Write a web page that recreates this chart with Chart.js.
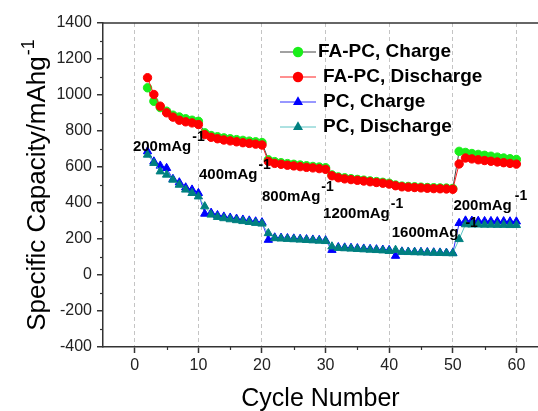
<!DOCTYPE html>
<html><head><meta charset="utf-8">
<script src="https://cdn.jsdelivr.net/npm/chart.js@4/dist/chart.umd.min.js"></script>
<style>
html,body{margin:0;padding:0;background:#fff;overflow:hidden;}
#wrap{position:relative;width:538px;height:411px;}
</style></head><body>
<div id="wrap"><canvas id="c"></canvas></div>
<script>
// ---- data ----
const cycles = [2,3,4,5,6,7,8,9,10,
  11,12,13,14,15,16,17,18,19,20,
  21,22,23,24,25,26,27,28,29,30,
  31,32,33,34,35,36,37,38,39,40,
  41,42,43,44,45,46,47,48,49,50,
  51,52,53,54,55,56,57,58,59,60];
const faPcCharge = [1040,965,930,910,888,878,868,860,854,
  790,775,768,762,757,752,748,744,740,736,
  640,630,624,619,615,611,607,603,600,596,
  556,545,540,535,531,527,523,519,515,510,
  500,494,492,490,488,486,485,484,483,481,
  687,681,675,670,665,660,655,650,646,642];
const faPcDischarge = [1096,1003,938,901,877,860,851,845,836,
  780,765,757,750,745,740,735,731,727,722,
  631,620,615,610,606,602,598,595,591,587,
  551,540,534,530,526,522,518,514,510,505,
  496,490,488,486,484,482,480,479,478,476,
  617,650,645,640,636,632,628,624,620,616];
const pcCharge = [687,630,607,594,533,514,486,474,455,
  340,345,332,324,318,312,307,302,297,292,
  195,208,206,204,202,200,198,196,194,192,
  139,154,152,150,148,146,144,142,140,138,
  106,130,129,128,127,126,125,124,123,122,
  288,302,301,300,299,299,298,298,297,297];
const pcDischarge = [668,622,575,557,529,501,474,455,436,
  381,335,322,315,309,304,299,294,289,285,
  232,204,202,200,198,196,194,192,190,188,
  158,150,148,146,144,142,140,138,136,133,
  139,128,127,126,125,124,123,122,121,120,
  199,281,280,280,279,279,278,278,277,277];
const seriesNames = ['FA-PC, Charge','FA-PC, Discharge','PC, Charge','PC, Discharge'];
const xTicks = [0,10,20,30,40,50,60];
const xMinorTicks = [5,15,25,35,45,55];
const yTicks = [-400,-200,0,200,400,600,800,1000,1200,1400];
const yMinorTicks = [-300,-100,100,300,500,700,900,1100,1300];
const rateLabels = ['200mAg','400mAg','800mAg','1200mAg','1600mAg','200mAg'];
const rateSup = '-1';
const yTitle = 'Specific Capacity/mAhg';
const xTitle = 'Cycle Number';

const FONT = '"Liberation Sans", Arial, Helvetica, sans-serif';
Chart.defaults.font.family = FONT;

function pts(ys){ return cycles.map((c,i)=>({x:c,y:ys[i]})); }

function drawMarker(ctx, style, x, y, r, color){
  ctx.fillStyle = color;
  ctx.beginPath();
  if (style === 'triangle'){
    let rad = 0;
    ctx.moveTo(x + Math.sin(rad)*r, y - Math.cos(rad)*r);
    rad += 2*Math.PI/3;
    ctx.lineTo(x + Math.sin(rad)*r, y - Math.cos(rad)*r);
    rad += 2*Math.PI/3;
    ctx.lineTo(x + Math.sin(rad)*r, y - Math.cos(rad)*r);
    ctx.closePath();
  } else {
    ctx.arc(x, y, r, 0, Math.PI*2);
  }
  ctx.fill();
}

const framePlugin = {
  id:'frame',
  afterDraw(chart){
    const {ctx, chartArea:a, scales} = chart;
    ctx.save();
    ctx.strokeStyle = '#333'; ctx.lineWidth = 1.5;
    ctx.beginPath(); ctx.moveTo(a.left, a.top); ctx.lineTo(chart.width, a.top); ctx.stroke();
    ctx.lineWidth = 1.2;
    yMinorTicks.forEach(v=>{
      const p = Math.round(scales.y.getPixelForValue(v)) + 0.5;
      ctx.beginPath(); ctx.moveTo(a.left-3, p); ctx.lineTo(a.left, p); ctx.stroke();
    });
    xMinorTicks.forEach(v=>{
      const p = Math.round(scales.x.getPixelForValue(v)) + 0.5;
      ctx.beginPath(); ctx.moveTo(p, a.bottom); ctx.lineTo(p, a.bottom+3); ctx.stroke();
    });
    // y title with superscript
    ctx.fillStyle = '#000';
    ctx.textBaseline = 'middle'; ctx.textAlign = 'left';
    ctx.font = '26px ' + FONT;
    const w = ctx.measureText(yTitle).width;
    ctx.font = '18px ' + FONT;
    const ws = ctx.measureText(rateSup).width;
    const cy = (a.top + a.bottom)/2;
    ctx.translate(38, cy);
    ctx.rotate(-Math.PI/2);
    const sx = -(w + ws + 1)/2;
    ctx.font = '26px ' + FONT;
    ctx.fillText(yTitle, sx, 0);
    ctx.font = '18px ' + FONT;
    ctx.fillText(rateSup, sx + w + 1, -9);
    ctx.restore();
  }
};

const annotPlugin = {
  id:'rateAnnot',
  afterDatasetsDraw(chart, args, opts){
    const {ctx, scales} = chart;
    ctx.save();
    ctx.fillStyle = '#000';
    ctx.textBaseline = 'middle'; ctx.textAlign = 'left';
    opts.items.forEach((it,i)=>{
      const x = scales.x.getPixelForValue(it.x);
      const y = scales.y.getPixelForValue(it.y);
      ctx.font = 'bold 15px ' + FONT;
      ctx.fillText(rateLabels[i], x, y);
      const w = ctx.measureText(rateLabels[i]).width;
      ctx.font = 'bold 14px ' + FONT;
      ctx.fillText(rateSup, x + w + (it.gap||1), y - 10);
    });
    ctx.restore();
  }
};

const legendPlugin = {
  id:'customLegend',
  afterDraw(chart, args, opts){
    const ctx = chart.ctx;
    ctx.save();
    chart.data.datasets.forEach((ds,i)=>{
      const y = opts.top + i*opts.rowGap;
      ctx.strokeStyle = ds.borderColor; ctx.lineWidth = 1;
      ctx.beginPath(); ctx.moveTo(opts.lineX0, y); ctx.lineTo(opts.lineX1, y); ctx.stroke();
      drawMarker(ctx, ds.pointStyle, opts.markerX, y, ds.pointRadius + 1, ds.pointBackgroundColor);
      ctx.fillStyle = '#000';
      ctx.font = 'bold 19px ' + FONT;
      ctx.textBaseline = 'middle'; ctx.textAlign = 'left';
      ctx.fillText(ds.label, i === 0 ? opts.textX0 : opts.textX, y);
    });
    ctx.restore();
  }
};

function ds(label, data, line, fill, style, radius, order){
  return {label, data: pts(data), borderColor: line, backgroundColor: fill,
    pointBackgroundColor: fill, pointBorderColor: fill, pointBorderWidth: 1,
    pointStyle: style, pointRadius: radius, borderWidth: 1, showLine: true,
    tension: 0, order};
}

new Chart(document.getElementById('c'), {
  type: 'scatter',
  data: { datasets: [
    ds(seriesNames[0], faPcCharge, '#444444', '#1aee1a', 'circle', 4.2, 2),
    ds(seriesNames[1], faPcDischarge, '#ff2020', '#ff0000', 'circle', 4.2, 1),
    ds(seriesNames[2], pcCharge, '#3030ff', '#0000ff', 'triangle', 4.8, 4),
    ds(seriesNames[3], pcDischarge, '#5cc4c4', '#008080', 'triangle', 4.8, 3)
  ]},
  options: {
    responsive: true, maintainAspectRatio: false, animation: false,
    devicePixelRatio: 1,
    layout: { autoPadding: false, padding: { left: 0, right: 0, top: 23, bottom: 0 } },
    plugins: {
      legend: { display: false }, tooltip: { enabled: false },
      customLegend: { top: 52, rowGap: 25, lineX0: 280, lineX1: 316, markerX: 298, textX0: 318, textX: 323 },
      rateAnnot: { items: [
        {x:-0.3, y:711}, {x:10.1, y:556}, {x:20.0, y:433},
        {x:29.6, y:339}, {x:40.4, y:233, gap:7}, {x:50.1, y:383, gap:3}
      ]}
    },
    scales: {
      x: {
        type: 'linear', min: -5, max: 63.4,
        afterBuildTicks: s => { s.ticks = xTicks.map(v => ({value: v})); },
        afterFit: s => { s.height = 64; s.paddingLeft = 0; s.paddingRight = 0; },
        grid: { display: true, drawOnChartArea: true, drawTicks: true, color: '#c4c4c4', lineWidth: 1,
          tickLength: 6, tickColor: '#333', tickWidth: 1.5, tickBorderDash: [] },
        border: { display: true, color: '#333', width: 1.5, dash: [4,3] },
        ticks: { color: '#222', font: { size: 16 }, padding: 3, maxRotation: 0, autoSkip: false },
        title: { display: true, text: xTitle, color: '#000', font: { size: 25 }, padding: { top: 0, bottom: -3 } }
      },
      y: {
        type: 'linear', min: -400, max: 1400,
        afterBuildTicks: s => { s.ticks = yTicks.map(v => ({value: v})); },
        afterFit: s => { s.width = 103; s.paddingTop = 0; s.paddingBottom = 0; },
        grid: { display: true, drawOnChartArea: false, drawTicks: true, tickLength: 6, color: '#333', lineWidth: 1.5 },
        border: { display: true, color: '#333', width: 1.5 },
        ticks: { color: '#222', font: { size: 16 }, padding: 5, autoSkip: false, callback: v => String(v) }
      }
    }
  },
  plugins: [framePlugin, annotPlugin, legendPlugin]
});
</script>
</body></html>
